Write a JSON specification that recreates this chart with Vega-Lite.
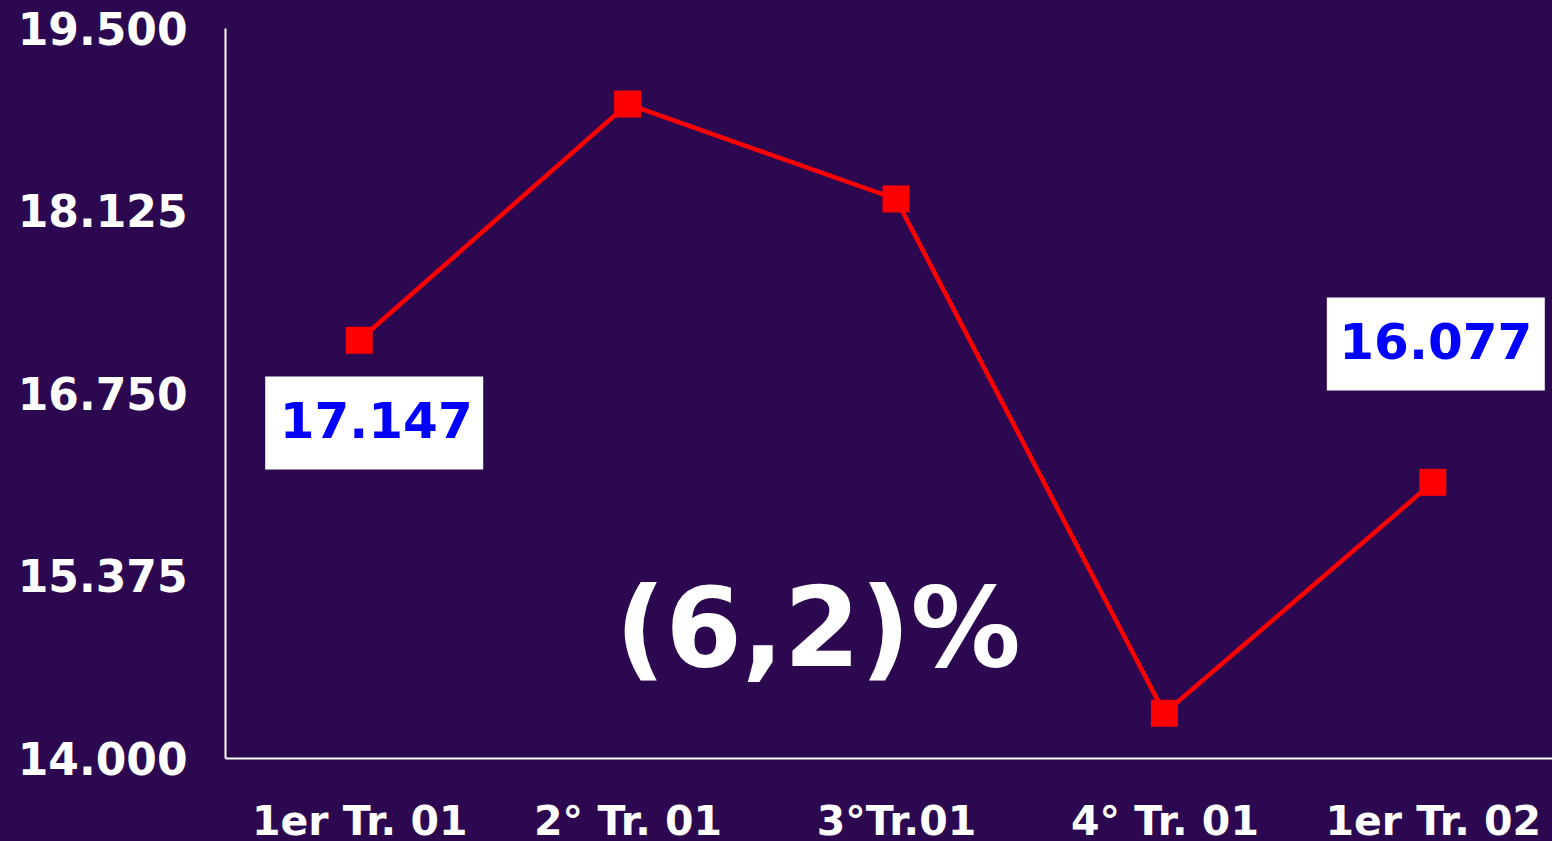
{
  "$schema": "https://vega.github.io/schema/vega-lite/v6.json",
  "autosize": {"type": "none"},
  "width": 1342,
  "height": 730,
  "padding": {"left": 225, "top": 28, "right": 0, "bottom": 83},
  "background": "#2c0850",
  "config": {"view": {"stroke": null}},
  "datasets": {
    "main": [
      {"q": "1er Tr. 01", "v": 17147},
      {"q": "2° Tr. 01", "v": 18927},
      {"q": "3°Tr.01", "v": 18212},
      {"q": "4° Tr. 01", "v": 14337},
      {"q": "1er Tr. 02", "v": 16077}
    ],
    "ann": [
      {"q": "1er Tr. 01", "ly": 16524, "t": "17.147", "k": "a"},
      {"q": "1er Tr. 02", "ly": 17119, "t": "16.077", "k": "b"}
    ],
    "big": [
      {"q": "3°Tr.01", "ly": 14940, "t": "(6,2)%"}
    ]
  },
  "encoding": {
    "x": {
      "field": "q", "type": "ordinal", "sort": null,
      "scale": {"type": "point", "padding": 0.5, "domain": ["1er Tr. 01", "2° Tr. 01", "3°Tr.01", "4° Tr. 01", "1er Tr. 02"]},
      "axis": {
        "title": null, "ticks": false, "grid": false,
        "domainColor": "#ffffff", "domainWidth": 2,
        "labelColor": "#ffffff", "labelFont": "DejaVu Sans", "labelFontWeight": "bold", "labelFontSize": 41,
        "labelBaseline": "alphabetic", "labelPadding": 76, "labelAngle": 0,
        "labelLimit": 0, "labelOverlap": false
      }
    }
  },
  "layer": [
    {
      "data": {"name": "main"},
      "mark": {"type": "line", "color": "#ff0000", "strokeWidth": 4.5},
      "encoding": {
        "y": {
          "field": "v", "type": "quantitative",
          "scale": {"domain": [14000, 19500], "nice": false, "zero": false},
          "axis": {
            "title": null, "ticks": false, "grid": false,
            "values": [14000, 15375, 16750, 18125, 19500],
            "labelExpr": "replace(format(datum.value, ',d'), ',', '.')",
            "domainColor": "#ffffff", "domainWidth": 2,
            "labelColor": "#ffffff", "labelFont": "DejaVu Sans", "labelFontWeight": "bold", "labelFontSize": 44,
            "labelPadding": 38, "labelOffset": 3, "labelLimit": 0
          }
        }
      }
    },
    {
      "data": {"name": "main"},
      "mark": {"type": "point", "shape": "square", "filled": true, "color": "#ff0000", "opacity": 1, "size": 729},
      "encoding": {"y": {"field": "v", "type": "quantitative"}}
    },
    {
      "data": {"name": "ann"},
      "transform": [{"filter": "datum.k == 'a'"}],
      "mark": {"type": "rect", "color": "#ffffff", "width": 218, "height": 93, "xOffset": 15},
      "encoding": {"y": {"field": "ly", "type": "quantitative"}}
    },
    {
      "data": {"name": "ann"},
      "transform": [{"filter": "datum.k == 'b'"}],
      "mark": {"type": "rect", "color": "#ffffff", "width": 218, "height": 93, "xOffset": 3},
      "encoding": {"y": {"field": "ly", "type": "quantitative"}}
    },
    {
      "data": {"name": "ann"},
      "transform": [{"filter": "datum.k == 'a'"}],
      "mark": {"type": "text", "color": "#0000ff", "font": "DejaVu Sans", "fontWeight": "bold", "fontSize": 50, "baseline": "middle", "align": "center", "xOffset": 17},
      "encoding": {"y": {"field": "ly", "type": "quantitative"}, "text": {"field": "t"}}
    },
    {
      "data": {"name": "ann"},
      "transform": [{"filter": "datum.k == 'b'"}],
      "mark": {"type": "text", "color": "#0000ff", "font": "DejaVu Sans", "fontWeight": "bold", "fontSize": 50, "baseline": "middle", "align": "center", "xOffset": 3},
      "encoding": {"y": {"field": "ly", "type": "quantitative"}, "text": {"field": "t"}}
    },
    {
      "data": {"name": "big"},
      "mark": {"type": "text", "color": "#ffffff", "font": "DejaVu Sans", "fontWeight": "bold", "fontSize": 110, "baseline": "middle", "align": "center", "xOffset": -78},
      "encoding": {"y": {"field": "ly", "type": "quantitative"}, "text": {"field": "t"}}
    }
  ]
}
